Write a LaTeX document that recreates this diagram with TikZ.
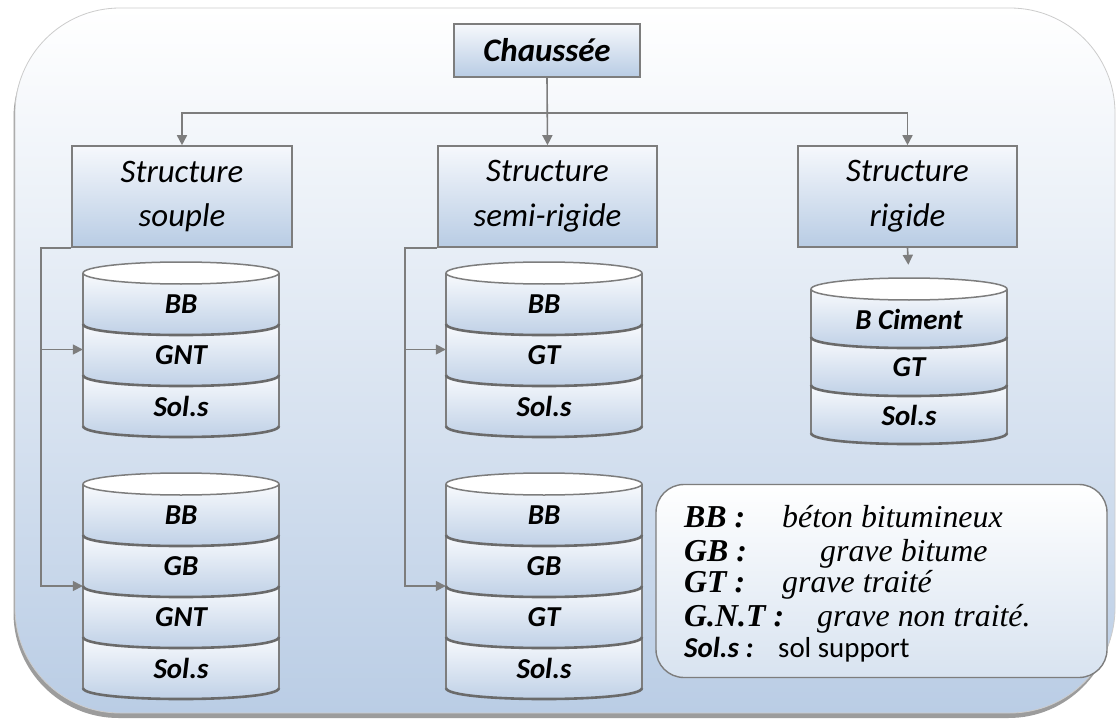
\documentclass[tikz,border=0pt]{standalone}
\usepackage{fontspec}
\setmainfont{Carlito}
\newfontfamily\tnr{Liberation Serif}
\usetikzlibrary{arrows.meta,shadows,calc}
\definecolor{boxblue}{RGB}{184,204,228}
\definecolor{boxtop}{RGB}{246,248,252}
\definecolor{lineg}{RGB}{125,125,125}
\definecolor{bgbot}{RGB}{186,205,229}
\definecolor{cyltop}{RGB}{248,250,253}
\definecolor{cylbot}{RGB}{188,206,229}
\newcommand\drawcyl[6]{% #1 name, #2 cx, #3 y0, #4 layer h, #5 n, #6 labels
  \foreach \lab [count=\i] in {#6} {
    \pgfmathsetmacro\yt{#3+(\i-1)*#4}
    \pgfmathsetmacro\yb{#3+\i*#4}
    \path[top color=cyltop, bottom color=cylbot]
      (#2-98,\yt) -- (#2-98,\yb) .. controls (#2-98,\yb+14.7) and (#2+98,\yb+14.7) .. (#2+98,\yb)
      -- (#2+98,\yt) .. controls (#2+98,\yt+14.7) and (#2-98,\yt+14.7) .. (#2-98,\yt) -- cycle;
  }
  \pgfmathsetmacro\yend{#3+#5*#4}
  \draw[cylline] (#2-98,#3) -- (#2-98,\yend) (#2+98,#3) -- (#2+98,\yend);
  \foreach \lab [count=\i] in {#6} {
    \pgfmathsetmacro\yb{#3+\i*#4}
    \pgfmathsetmacro\yc{#3+(\i-0.5)*#4+6}
    \draw[sepline] (#2-98,\yb) .. controls (#2-98,\yb+14.7) and (#2+98,\yb+14.7) .. (#2+98,\yb);
    \node[cyllab] (#1-\i) at (#2,\yc) {\lab};
  }
  \draw[cylline, fill=white] (#2,#3) ellipse [x radius=98, y radius=11];
  \pgfmathsetmacro\bodyh{#5*#4+22}
  \pgfmathsetmacro\bodyc{#3+#5*#4/2}
  \node[inner sep=0, minimum width=196bp, minimum height=\bodyh bp] (#1) at (#2,\bodyc) {};
}
\begin{document}
\begin{tikzpicture}[x=1bp,y=-1bp,
  conn/.style={draw=lineg, line width=1.6bp},
  arr/.style={conn, -{Triangle[length=10bp,width=10bp]}},
  cylline/.style={draw=lineg, line width=1.5bp},
  sepline/.style={draw=lineg!85!black, line width=2.6bp},
  cyllab/.style={inner sep=0, font=\fontsize{29}{29}\selectfont\bfseries\itshape},
  sbox/.style={draw=lineg, line width=1.6bp, top color=boxtop, bottom color=boxblue,
    inner sep=0, minimum height=101bp, minimum width=219bp, align=center,
    font=\fontsize{33}{45}\selectfont\itshape},
  legkey/.style={anchor=base west, inner sep=0, font=\tnr\fontsize{32}{32}\selectfont\bfseries\itshape},
  legval/.style={anchor=base west, inner sep=0, font=\tnr\fontsize{32}{32}\selectfont\itshape}]
\path[use as bounding box, fill=white] (0,0) rectangle (1118,720);
\path[draw=gray!40, line width=0.8bp, top color=white, bottom color=bgbot, rounded corners=105bp,
  drop shadow={shadow xshift=-1.5bp, shadow yshift=-5bp, opacity=0.55, fill=black!70}]
  (15,8) rectangle (1115,713);
% boxes
\node[sbox, minimum width=186bp, minimum height=53bp, font=\fontsize{33}{33}\selectfont\bfseries\itshape]
  (chaussee) at (547,50.5) {Chaussée};
\node[sbox, minimum width=220bp] (souple) at (182,196.5) {Structure\\souple};
\node[sbox] (semi) at (547.5,196.5) {Structure\\semi-rigide};
\node[sbox] (rigide) at (907.5,196.5) {Structure\\rigide};
% cylinders
\drawcyl{c1}{181}{273}{51}{3}{BB,GNT,Sol.s}
\drawcyl{c2}{181}{484}{51}{4}{BB,GB,GNT,Sol.s}
\drawcyl{c3}{544}{273}{51}{3}{BB,GT,Sol.s}
\drawcyl{c4}{544}{484}{51}{4}{BB,GB,GT,Sol.s}
\drawcyl{c5}{909}{289}{48}{3}{B Ciment,GT,Sol.s}
% connectors
\coordinate (hub) at (547,113);
\draw[arr] (chaussee.south) -- (semi.north);
\draw[arr] (hub) -| (souple.north);
\draw[arr] (hub) -| (rigide.north);
\coordinate (sbend) at ($(souple.south west)+(-30,0)$);
\draw[arr] (souple.south west) -- (sbend) |- (c2.west);
\draw[arr] (sbend) |- (c1.west);
\coordinate (mbend) at ($(semi.south west)+(-32,0)$);
\draw[arr] (semi.south west) -- (mbend) |- (c4.west);
\draw[arr] (mbend) |- (c3.west);
\draw[arr, shorten >=13bp] (rigide.south) -- (c5.north);
% legend
\node[draw=lineg, line width=1.4bp, rounded corners=28bp, top color=white, bottom color=boxblue!55!white,
  minimum width=451bp, minimum height=193bp, inner sep=0] (legend) at (881.5,581) {};
\node[legkey] (k1) at (684,527) {BB :};
\node[legval] (v1) at (782,527) {béton bitumineux};
\node[legkey] (k2) at (684,561) {GB :};
\node[legval] (v2) at (820,561) {grave bitume};
\node[legkey] (k3) at (684,592) {GT :};
\node[legval] (v3) at (782,592) {grave traité};
\node[legkey] (k4) at (684,626) {G.N.T :};
\node[legval] (v4) at (817,626) {grave non traité.};
\node[legkey, font=\fontsize{29}{29}\selectfont\bfseries\itshape] (k5) at (684,657) {Sol.s :};
\node[legval, font=\fontsize{29}{29}\selectfont] (v5) at (778,657) {sol support};
\end{tikzpicture}
\end{document}
